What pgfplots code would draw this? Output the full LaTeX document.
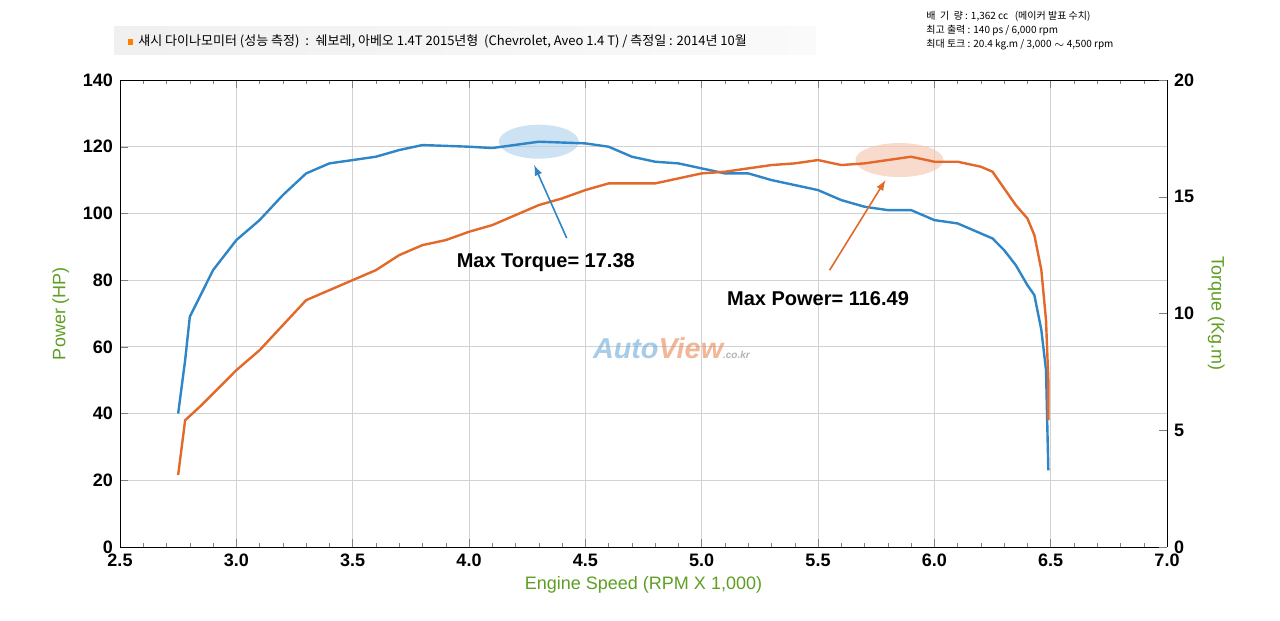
\documentclass[border=0pt]{standalone}
\usepackage{pgfplots}
\pgfplotsset{compat=1.18}
\usepackage{fontspec}
\setmainfont{Liberation Sans}
\newfontfamily\kr{Noto Sans CJK KR}
\definecolor{tq}{HTML}{2E86C8}
\definecolor{pw}{HTML}{E2692A}
\definecolor{lab}{HTML}{5E9E22}
\begin{document}
\begin{tikzpicture}[x=1pt,y=1pt]
\path (0,0) rectangle (640,310.5);
\fill[left color=gray!12,right color=gray!4] (57,283) rectangle (408,297);
\fill[orange] (64,288) rectangle (66.5,291);
\node[anchor=west,font=\kr\fontsize{6.5}{7}\selectfont,inner sep=0] at (69,290) {섀시 다이나모미터 (성능 측정) \ : \ 쉐보레, 아베오 1.4T 2015년형 \ (Chevrolet, Aveo 1.4 T) / 측정일 : 2014년 10월};
\node[anchor=north west,align=left,font=\kr\fontsize{5}{7}\selectfont,inner sep=0] at (463,305) {배 \ 기 \ 량 : 1,362 cc \ \ (메이커 발표 수치)\\최고 출력 : 140 ps / 6,000 rpm\\최대 토크 : 20.4 kg.m / 3,000 $\sim$ 4,500 rpm};
\begin{axis}[at={(60pt,37pt)},anchor=south west,scale only axis,width=523.5pt,height=233.5pt,
 xmin=2.5,xmax=7,ymin=0,ymax=140,xtick={2.5,3,...,7},ytick={0,20,...,140},
 minor x tick num=4, axis y line*=left,
 grid=major,grid style={gray!35},
 xticklabel style={/pgf/number format/.cd,fixed,fixed zerofill,precision=1},
 tick label style={font=\bfseries\small},
 /pgf/number format/assume math mode=true,
 xlabel={Engine Speed (RPM X 1,000)},ylabel={Power (HP)},
 label style={color=lab,font=\small},
 xlabel style={yshift=2pt},
 tick align=inside, major tick length=4pt, minor tick length=2pt, clip=false]
\fill[tq!40,opacity=0.6] (axis cs:4.3,121.5) ellipse [x radius=20pt,y radius=8.5pt];
\fill[pw!40,opacity=0.6] (axis cs:5.85,116) ellipse [x radius=22pt,y radius=8.5pt];
\addplot[tq,very thick] coordinates {(2.75,40)(2.78,56)(2.8,69)(2.9,83)(3.0,92)(3.1,98)(3.2,105.5)(3.3,112)(3.4,115)(3.5,116)(3.6,117)(3.7,119)(3.8,120.5)(4.0,120)(4.1,119.6)(4.3,121.5)(4.5,121)(4.6,120)(4.7,117)(4.8,115.5)(4.9,115)(5.0,113.5)(5.1,112)(5.2,112)(5.3,110)(5.4,108.5)(5.5,107)(5.6,104)(5.7,102)(5.8,101)(5.9,101)(6.0,98)(6.1,97)(6.2,94)(6.25,92.5)(6.3,89)(6.35,84.5)(6.4,78.5)(6.43,75.5)(6.46,65)(6.48,53)(6.485,38)(6.49,23)};
\addplot[pw,very thick] coordinates {(2.75,21.6)(2.78,38)(2.85,42.5)(3.0,53)(3.1,59)(3.2,66.5)(3.3,74)(3.4,77)(3.5,80)(3.6,83)(3.7,87.5)(3.8,90.5)(3.9,92)(4.0,94.5)(4.1,96.5)(4.2,99.5)(4.3,102.5)(4.4,104.5)(4.5,107)(4.6,109)(4.8,109)(4.9,110.5)(5.0,112)(5.1,112.5)(5.2,113.5)(5.3,114.5)(5.4,115)(5.5,116)(5.6,114.5)(5.7,115)(5.8,116)(5.9,117)(6.0,115.5)(6.1,115.5)(6.2,114)(6.25,112.5)(6.3,107.5)(6.35,102.5)(6.4,98.5)(6.43,93.5)(6.46,83)(6.48,68)(6.49,50)(6.49,38)};
\draw[tq,thick,-latex] (axis cs:4.42,92.6) -- (axis cs:4.28,114.5);
\draw[pw,thick,-latex] (axis cs:5.55,83) -- (axis cs:5.79,110);
\node[font=\bfseries] at (axis cs:4.33,85.4) {Max Torque= 17.38};
\node[font=\bfseries] at (axis cs:5.5,74.5) {Max Power= 116.49};
\node[font=\bfseries\itshape\Large,opacity=0.6] at (axis cs:4.87,59.6) {\textcolor{tq!70}{Auto}\textcolor{pw!80}{View}\textcolor{gray}{\tiny .co.kr}};
\end{axis}
\begin{axis}[at={(60pt,37pt)},anchor=south west,scale only axis,width=523.5pt,height=233.5pt,
 xmin=2.5,xmax=7,ymin=0,ymax=20,ytick={0,5,...,20},axis y line*=right,axis x line=none,
 tick label style={font=\bfseries\small},/pgf/number format/assume math mode=true,
 ylabel={Torque (Kg.m)},ylabel style={color=lab,font=\small,rotate=180},
 tick align=inside, major tick length=4pt]
\end{axis}
\end{tikzpicture}
\end{document}
